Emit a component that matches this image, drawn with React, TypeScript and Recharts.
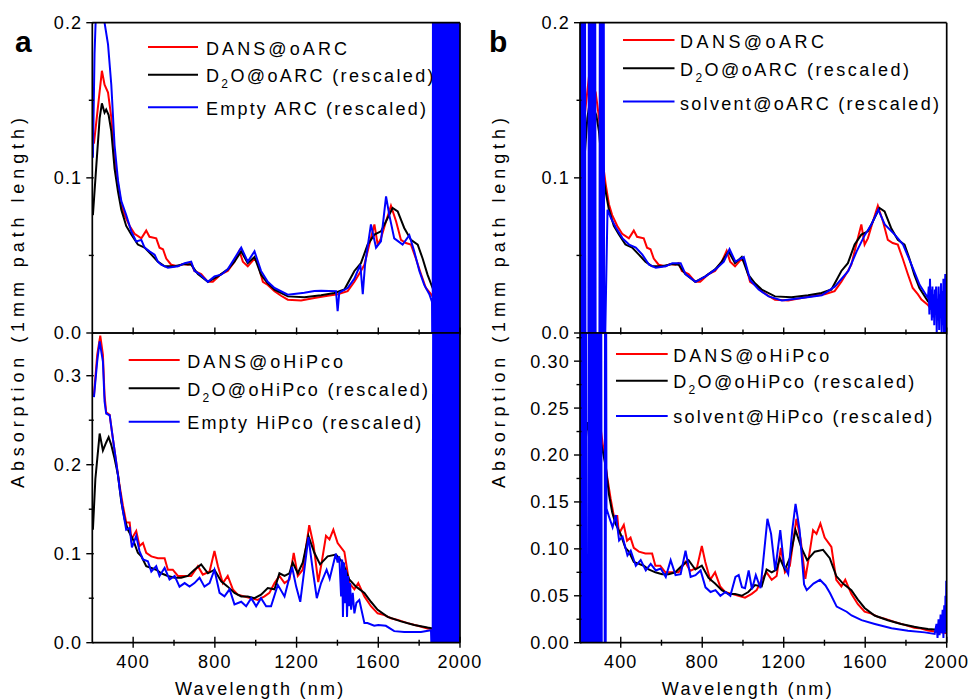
import React from 'react';
import { LineChart, Line, XAxis, YAxis, Legend } from 'recharts';

type P = [number, number];

// ---------- axes ----------
const wavelengthDomain: [number, number] = [200, 2000];
const wavelengthTicks = [400, 600, 800, 1000, 1200, 1400, 1600, 1800, 2000];
const wavelengthLabelTicks = [400, 800, 1200, 1600, 2000];
const arcAbsDomain: [number, number] = [0, 0.2];
const arcAbsTicks = [0, 0.05, 0.1, 0.15, 0.2];
const hipcoAbsDomainA: [number, number] = [0, 0.348];
const hipcoAbsTicksA = [0, 0.05, 0.1, 0.15, 0.2, 0.25, 0.3];
const hipcoAbsDomainB: [number, number] = [0, 0.33];
const hipcoAbsTicksB = [0, 0.025, 0.05, 0.075, 0.1, 0.125, 0.15, 0.175, 0.2, 0.225, 0.25, 0.275, 0.3, 0.325];

// ---------- spectra [wavelength nm, absorption] ----------
const dansArc: P[] = [
  [208, 0.122], [247, 0.169], [260, 0.16], [277, 0.155], [293, 0.139], [309, 0.113], [326, 0.096], [342, 0.083],
  [358, 0.076], [383, 0.069], [407, 0.064], [440, 0.061], [464, 0.066], [480, 0.062], [513, 0.061], [529, 0.055],
  [546, 0.054], [562, 0.048], [586, 0.044], [619, 0.043], [643, 0.0445], [668, 0.044], [684, 0.045], [700, 0.04],
  [733, 0.038], [766, 0.033], [790, 0.033], [806, 0.035], [831, 0.038], [863, 0.04], [896, 0.046], [920, 0.053],
  [937, 0.046], [961, 0.043], [994, 0.048], [1010, 0.045], [1035, 0.033], [1059, 0.031], [1092, 0.027], [1124, 0.024],
  [1157, 0.0215], [1222, 0.021], [1287, 0.0225], [1352, 0.024], [1401, 0.025], [1450, 0.027], [1483, 0.033], [1515, 0.04],
  [1532, 0.044], [1556, 0.057], [1581, 0.07], [1597, 0.057], [1613, 0.061], [1638, 0.072], [1662, 0.082], [1687, 0.072],
  [1711, 0.06], [1735, 0.058], [1760, 0.057], [1784, 0.048], [1809, 0.038], [1833, 0.029], [1858, 0.025], [1876, 0.0215],
  [1908, 0.018], [1933, 0.014], [1973, 0.01], [2000, 0.008],
];

const d2oArc: P[] = [
  [203, 0.076], [220, 0.1085], [236, 0.1385], [247, 0.148], [260, 0.142], [268, 0.144], [280, 0.1405], [293, 0.13],
  [309, 0.106], [326, 0.091], [342, 0.0795], [366, 0.069], [391, 0.0635], [423, 0.057], [456, 0.055], [489, 0.0505],
  [521, 0.046], [554, 0.043], [603, 0.043], [652, 0.0445], [684, 0.044], [717, 0.038], [766, 0.033], [815, 0.0365],
  [863, 0.041], [896, 0.046], [929, 0.0526], [961, 0.045], [994, 0.049], [1026, 0.0376], [1059, 0.032], [1092, 0.028],
  [1157, 0.0236], [1238, 0.023], [1320, 0.0243], [1385, 0.0258], [1434, 0.028], [1483, 0.04], [1515, 0.045], [1548, 0.057],
  [1581, 0.0634], [1613, 0.0655], [1638, 0.072], [1670, 0.0806], [1695, 0.0784], [1727, 0.0677], [1760, 0.06], [1793, 0.057],
  [1817, 0.048], [1841, 0.0376], [1866, 0.029], [1908, 0.0204], [1941, 0.0161], [1973, 0.0118], [2000, 0.009],
];

const nirSaturation: P[] = [
  [1866, -0.05], [1869, 0.45], [1872, -0.05], [1875, 0.45], [1878, -0.05], [1881, 0.45], [1884, -0.05], [1887, 0.45],
  [1890, -0.05], [1893, 0.45], [1896, -0.05], [1899, 0.45], [1902, -0.05], [1905, 0.45], [1908, -0.05], [1911, 0.45],
  [1914, -0.05], [1917, 0.45], [1920, -0.05], [1923, 0.45], [1926, -0.05], [1929, 0.45], [1932, -0.05], [1935, 0.45],
  [1938, -0.05], [1941, 0.45], [1944, -0.05], [1947, 0.45], [1950, -0.05], [1953, 0.45], [1956, -0.05], [1959, 0.45],
  [1962, -0.05], [1965, 0.45], [1968, -0.05], [1971, 0.45], [1974, -0.05], [1977, 0.45], [1980, -0.05], [1983, 0.45],
  [1986, -0.05], [1989, 0.45], [1992, -0.05], [1995, 0.45], [1998, -0.05], [2000, 0.45],
];

const emptyArcMain: P[] = [
  [203, 0.113], [211, 0.18], [220, 0.215], [236, 0.23], [252, 0.22], [260, 0.2], [277, 0.186], [293, 0.16],
  [309, 0.121], [326, 0.098], [342, 0.085], [366, 0.076], [391, 0.0655], [415, 0.059], [440, 0.06], [456, 0.055],
  [480, 0.0526], [505, 0.0505], [521, 0.046], [537, 0.044], [570, 0.042], [619, 0.043], [652, 0.045], [684, 0.046],
  [700, 0.04], [725, 0.038], [766, 0.033], [798, 0.0365], [831, 0.0376], [863, 0.041], [896, 0.048], [929, 0.055],
  [961, 0.046], [994, 0.0526], [1026, 0.04], [1059, 0.033], [1092, 0.029], [1157, 0.0247], [1238, 0.026], [1287, 0.027],
  [1320, 0.0273], [1393, 0.027], [1401, 0.014], [1409, 0.026], [1450, 0.029], [1483, 0.035], [1512, 0.044], [1524, 0.025],
  [1535, 0.044], [1564, 0.07], [1589, 0.055], [1613, 0.059], [1638, 0.088], [1654, 0.076], [1678, 0.061], [1719, 0.057],
  [1752, 0.063], [1776, 0.0526], [1801, 0.04], [1825, 0.031], [1850, 0.025], [1863, 0.02],
];
const emptyArc: P[] = [...emptyArcMain, ...nirSaturation];

const solventArc: P[] = [
  [200, 0.3], [203, -0.05], [206, 0.3], [209, -0.05], [212, 0.3], [215, -0.05], [218, 0.3], [221, -0.05], [224, 0.3],
  [227, -0.05], [241, -0.05], [244, 0.3], [247, -0.05], [250, 0.3], [253, -0.05], [256, 0.3], [259, -0.05], [262, 0.3],
  [265, -0.05], [268, 0.3], [271, -0.05], [274, 0.3], [277, -0.05], [295, -0.05], [298, 0.3], [301, -0.05], [304, 0.3],
  [307, -0.05], [310, 0.3], [313, -0.05], [316, 0.3], [319, -0.05], [324, 0], [335, 0.0795], [352, 0.074], [376, 0.068],
  [409, 0.061], [441, 0.057], [474, 0.055], [506, 0.0505], [539, 0.044], [572, 0.042], [621, 0.043], [653, 0.045],
  [694, 0.045], [718, 0.038], [767, 0.033], [816, 0.0365], [865, 0.041], [906, 0.046], [934, 0.054], [963, 0.046],
  [1004, 0.049], [1036, 0.034], [1077, 0.028], [1126, 0.0236], [1191, 0.021], [1289, 0.0226], [1387, 0.0243], [1452, 0.03],
  [1517, 0.04], [1558, 0.0526], [1599, 0.0634], [1631, 0.07], [1664, 0.0795], [1696, 0.07], [1745, 0.0634], [1786, 0.057],
  [1827, 0.044], [1867, 0.031], [1908, 0.0226], [1912, 0.03], [1915, 0.012], [1918, 0.035], [1921, 0.015], [1924, 0.028],
  [1927, 0.008], [1930, 0.03], [1933, 0.01], [1936, 0.025], [1939, 0.005], [1942, 0.028], [1945, 0.012], [1948, 0.03],
  [1951, 0.0], [1954, 0.022], [1957, 0.008], [1960, 0.03], [1963, 0.002], [1966, 0.025], [1969, 0.01], [1972, 0.032],
  [1975, 0.0], [1978, 0.027], [1981, 0.005], [1984, 0.035], [1987, -0.01], [1990, 0.02], [1993, 0.038], [1995, -0.01],
  [1998, 0.01], [2000, -0.01],
];

const dansHipco: P[] = [
  [208, 0.278], [224, 0.3235], [239, 0.345], [252, 0.3235], [260, 0.278], [268, 0.259], [285, 0.256], [301, 0.229],
  [317, 0.203], [334, 0.176], [350, 0.154], [366, 0.135], [383, 0.135], [391, 0.116], [415, 0.1255], [431, 0.1086],
  [448, 0.112], [464, 0.101], [489, 0.097], [521, 0.095], [554, 0.095], [570, 0.082], [594, 0.082], [619, 0.075],
  [652, 0.075], [684, 0.075], [717, 0.086], [741, 0.0765], [774, 0.08], [798, 0.103], [815, 0.086], [839, 0.067],
  [863, 0.075], [888, 0.06], [912, 0.054], [945, 0.052], [978, 0.05], [1010, 0.048], [1043, 0.052], [1067, 0.056],
  [1092, 0.067], [1116, 0.075], [1141, 0.067], [1165, 0.071], [1186, 0.101], [1206, 0.075], [1230, 0.082], [1262, 0.132],
  [1283, 0.11], [1306, 0.068], [1322, 0.089], [1344, 0.12], [1361, 0.116], [1380, 0.127], [1401, 0.112], [1434, 0.102],
  [1458, 0.067], [1483, 0.06], [1502, 0.067], [1532, 0.052], [1564, 0.041], [1597, 0.033], [1630, 0.031], [1662, 0.0275],
  [1695, 0.0256], [1744, 0.022], [1793, 0.019], [1841, 0.016], [1866, 0.0155], [1908, 0.013], [1941, 0.012], [1973, 0.011],
  [2000, 0.01],
];

const d2oHipco: P[] = [
  [203, 0.127], [215, 0.184], [236, 0.235], [252, 0.216], [268, 0.225], [280, 0.231], [293, 0.222], [309, 0.207],
  [326, 0.188], [342, 0.158], [358, 0.139], [374, 0.127], [399, 0.116], [423, 0.101], [440, 0.097], [464, 0.086],
  [489, 0.084], [513, 0.082], [537, 0.078], [570, 0.075], [603, 0.073], [635, 0.073], [668, 0.075], [700, 0.082],
  [733, 0.088], [766, 0.078], [798, 0.082], [831, 0.069], [863, 0.063], [896, 0.056], [929, 0.052], [961, 0.052],
  [994, 0.05], [1026, 0.054], [1059, 0.0615], [1092, 0.06], [1116, 0.078], [1141, 0.075], [1165, 0.078], [1181, 0.09],
  [1206, 0.078], [1230, 0.09], [1258, 0.12], [1287, 0.101], [1315, 0.088], [1352, 0.097], [1393, 0.099], [1426, 0.09],
  [1458, 0.071], [1491, 0.063], [1532, 0.056], [1564, 0.046], [1597, 0.037], [1646, 0.029], [1711, 0.024], [1776, 0.02],
  [1841, 0.017], [1866, 0.016], [1908, 0.0145], [1941, 0.014], [1973, 0.0135], [2000, 0.013],
];

const emptyHipcoMain: P[] = [
  [208, 0.276], [224, 0.316], [236, 0.3385], [252, 0.316], [260, 0.271], [268, 0.2575], [285, 0.2556], [301, 0.229],
  [317, 0.203], [334, 0.173], [350, 0.148], [366, 0.127], [383, 0.129], [394, 0.107], [415, 0.12], [431, 0.103],
  [448, 0.0935], [472, 0.0916], [489, 0.08], [513, 0.086], [529, 0.075], [554, 0.084], [578, 0.071], [603, 0.075],
  [627, 0.063], [652, 0.067], [676, 0.063], [700, 0.067], [725, 0.073], [749, 0.063], [774, 0.067], [798, 0.082],
  [823, 0.056], [847, 0.052], [872, 0.06], [896, 0.043], [929, 0.046], [953, 0.041], [978, 0.05], [1002, 0.041],
  [1026, 0.05], [1051, 0.041], [1075, 0.041], [1108, 0.065], [1141, 0.052], [1178, 0.085], [1198, 0.063], [1218, 0.046],
  [1238, 0.082], [1258, 0.1185], [1279, 0.082], [1299, 0.05], [1320, 0.067], [1347, 0.082], [1362, 0.072], [1392, 0.1],
  [1401, 0.09], [1409, 0.097], [1418, 0.052], [1423, 0.0935], [1427, 0.029], [1432, 0.09], [1437, 0.0445], [1442, 0.082],
  [1447, 0.029], [1452, 0.075], [1457, 0.041], [1462, 0.067], [1467, 0.037], [1475, 0.056], [1483, 0.033], [1493, 0.045],
  [1507, 0.048], [1532, 0.022], [1547, 0.022], [1580, 0.019], [1600, 0.02], [1637, 0.019], [1678, 0.013], [1727, 0.012],
  [1809, 0.012], [1858, 0.014],
];
const emptyHipco: P[] = [...emptyHipcoMain, ...nirSaturation];

const solventHipco: P[] = [
  [200, 0.4], [203, -0.05], [206, 0.4], [209, -0.05], [212, 0.4], [215, -0.05], [218, 0.4], [221, -0.05], [224, 0.4],
  [227, -0.05], [230, 0.4], [233, -0.05], [241, -0.05], [244, 0.4], [247, -0.05], [250, 0.4], [253, -0.05], [256, 0.4],
  [259, -0.05], [262, 0.4], [265, -0.05], [268, 0.4], [271, -0.05], [274, 0.4], [277, -0.05], [280, 0.4], [283, -0.05],
  [286, 0.4], [289, -0.05], [292, 0.4], [295, -0.05], [298, 0.4], [301, -0.05], [304, 0.4], [307, -0.05], [321, -0.05],
  [323, 0.4], [326, -0.05], [328, 0.4], [330, 0.143], [343, 0.134], [360, 0.123], [376, 0.136], [392, 0.109],
  [409, 0.113], [433, 0.093], [449, 0.098], [474, 0.082], [498, 0.088], [523, 0.077], [547, 0.084], [572, 0.077],
  [596, 0.079], [621, 0.07], [645, 0.088], [669, 0.072], [694, 0.073], [718, 0.098], [743, 0.07], [767, 0.072],
  [792, 0.077], [816, 0.059], [841, 0.054], [865, 0.056], [889, 0.05], [914, 0.054], [938, 0.05], [963, 0.07],
  [979, 0.072], [995, 0.059], [1010, 0.058], [1028, 0.077], [1044, 0.057], [1063, 0.072], [1086, 0.058], [1120, 0.132],
  [1138, 0.116], [1158, 0.077], [1183, 0.12], [1202, 0.082], [1222, 0.073], [1242, 0.12], [1258, 0.148], [1278, 0.12],
  [1300, 0.062], [1313, 0.056], [1346, 0.063], [1378, 0.067], [1405, 0.061], [1427, 0.053], [1460, 0.0385], [1509, 0.033],
  [1533, 0.029], [1582, 0.024], [1647, 0.02], [1729, 0.0153], [1810, 0.0128], [1892, 0.011], [1941, 0.0093], [1950, 0.02],
  [1955, 0.005], [1960, 0.025], [1965, 0.008], [1970, 0.03], [1975, 0.01], [1980, 0.035], [1984, 0.005], [1988, 0.04],
  [1991, 0.01], [1994, 0.05], [1996, 0.015], [1998, 0.066], [2000, 0.03],
];

// ---------- styling ----------
const FONT = "'Liberation Sans', Arial, Helvetica, sans-serif";
const RED = '#ff0000';
const BLACK = '#000000';
const BLUE = '#0000ff';
const AXIS_W = 1.7;
const LINE_W = 2;

type Series = { name: string; color: string; points: P[] };
type PanelCfg = {
  key: string;
  left: number; top: number; width: number; height: number;
  plot: { l: number; t: number; r: number; b: number };
  yDomain: [number, number];
  yTicks: number[];
  yStep: number;
  yDigits: number;
  xLabels: boolean;
  series: Series[];
  legend: { x1: number; x2: number; tx: number; lineY: number[]; baseY: number[]; len: number[] };
};

const panels: PanelCfg[] = [
  {
    key: 'aTop', left: 0, top: 0, width: 490, height: 345,
    plot: { l: 92.3, t: 22.7, r: 460, b: 333 },
    yDomain: arcAbsDomain, yTicks: arcAbsTicks, yStep: 0.1, yDigits: 1, xLabels: false,
    series: [
      { name: 'DANS@oARC', color: RED, points: dansArc },
      { name: 'D₂O@oARC (rescaled)', color: BLACK, points: d2oArc },
      { name: 'Empty ARC (rescaled)', color: BLUE, points: emptyArc },
    ],
    legend: { x1: 148, x2: 198, tx: 206, lineY: [47, 74.7, 107.3], baseY: [54.8, 82, 114.5], len: [141, 227.5, 220] },
  },
  {
    key: 'aBottom', left: 0, top: 320, width: 490, height: 380,
    plot: { l: 92.3, t: 333, r: 460, b: 642.7 },
    yDomain: hipcoAbsDomainA, yTicks: hipcoAbsTicksA, yStep: 0.1, yDigits: 1, xLabels: true,
    series: [
      { name: 'DANS@oHiPco', color: RED, points: dansHipco },
      { name: 'D₂O@oHiPco (rescaled)', color: BLACK, points: d2oHipco },
      { name: 'Empty HiPco (rescaled)', color: BLUE, points: emptyHipco },
    ],
    legend: { x1: 128.7, x2: 179.7, tx: 187.3, lineY: [360, 388.3, 421.7], baseY: [368.3, 396, 429.3], len: [155.7, 240.7, 234] },
  },
  {
    key: 'bTop', left: 480, top: 0, width: 495, height: 345,
    plot: { l: 580, t: 22.7, r: 946.7, b: 333 },
    yDomain: arcAbsDomain, yTicks: arcAbsTicks, yStep: 0.1, yDigits: 1, xLabels: false,
    series: [
      { name: 'DANS@oARC', color: RED, points: dansArc },
      { name: 'D₂O@oARC (rescaled)', color: BLACK, points: d2oArc },
      { name: 'solvent@oARC (rescaled)', color: BLUE, points: solventArc },
    ],
    legend: { x1: 623, x2: 674.5, tx: 680, lineY: [40, 68.2, 101.5], baseY: [48, 76, 109.8], len: [144, 229, 259] },
  },
  {
    key: 'bBottom', left: 480, top: 320, width: 495, height: 380,
    plot: { l: 580, t: 333, r: 946.7, b: 642.7 },
    yDomain: hipcoAbsDomainB, yTicks: hipcoAbsTicksB, yStep: 0.05, yDigits: 2, xLabels: true,
    series: [
      { name: 'DANS@oHiPco', color: RED, points: dansHipco },
      { name: 'D₂O@oHiPco (rescaled)', color: BLACK, points: d2oHipco },
      { name: 'solvent@HiPco (rescaled)', color: BLUE, points: solventHipco },
    ],
    legend: { x1: 616, x2: 667.7, tx: 673.3, lineY: [354, 380.7, 416], baseY: [361.7, 388.3, 423.3], len: [156, 241, 259] },
  },
];

const toRows = (pts: P[]) => pts.map(([x, y]) => ({ x, y }));

function LegendLabel({ x, y, name, len }: { x: number; y: number; name: string; len: number }) {
  const parts = name.split('₂');
  return (
    <text x={x} y={y} fontSize={18} fontFamily={FONT} fill="#000" textLength={len} lengthAdjust="spacing">
      {parts.length === 2 ? (
        <>
          {parts[0]}
          <tspan fontSize={12} dy={6}>2</tspan>
          <tspan dy={-6}>{parts[1]}</tspan>
        </>
      ) : (
        name
      )}
    </text>
  );
}

function LegendBox({ cfg }: { cfg: PanelCfg }) {
  const { left, top, width, height, legend, series } = cfg;
  return (
    <svg width={width} height={height} style={{ position: 'absolute', left: 0, top: 0, overflow: 'visible' }}>
      {series.map((s, i) => (
        <g key={s.name}>
          <line x1={legend.x1 - left} x2={legend.x2 - left} y1={legend.lineY[i] - top} y2={legend.lineY[i] - top}
            stroke={s.color} strokeWidth={2} />
          <LegendLabel x={legend.tx - left} y={legend.baseY[i] - top} name={s.name} len={legend.len[i]} />
        </g>
      ))}
    </svg>
  );
}

function isMultiple(v: number, step: number) {
  return Math.abs(v / step - Math.round(v / step)) < 1e-6;
}

function Panel({ cfg }: { cfg: PanelCfg }) {
  const { left, top, width, height, plot } = cfg;
  // axes take 1px each (bottom/top x axes, right y axis); the left y axis takes the rest
  const margin = {
    top: plot.t - top - 1,
    right: left + width - plot.r - 1,
    bottom: top + height - plot.b - 1,
    left: 0,
  };
  const yAxisWidth = plot.l - left;

  const yTick = (props: any) => {
    const { x, y, payload } = props;
    const v = payload.value as number;
    const major = isMultiple(v, cfg.yStep);
    return (
      <g>
        <line x1={x - (major ? 6 : 3.5)} x2={x + 1.5} y1={y} y2={y} stroke="#000" strokeWidth={1.4} />
        {major && (
          <text x={x - 10} y={y} dy="0.36em" textAnchor="end" fontSize={18} fontFamily={FONT} letterSpacing={1.2} fill="#000">
            {v.toFixed(cfg.yDigits)}
          </text>
        )}
      </g>
    );
  };

  const xTick = (props: any) => {
    const { x, y, payload } = props;
    const v = payload.value as number;
    const major = wavelengthLabelTicks.includes(v);
    if (!cfg.xLabels) {
      return (
        <g>
          <line x1={x} x2={x} y1={y - (major ? 5.5 : 3.5)} y2={y + 1.5} stroke="#000" strokeWidth={1.4} />
        </g>
      );
    }
    return (
      <g>
        <line x1={x} x2={x} y1={y - (major ? 6 : 3)} y2={y + (major ? 5 : 3)} stroke="#000" strokeWidth={1.4} />
        {major && (
          <text x={x} y={y + 25} textAnchor="middle" fontSize={18} fontFamily={FONT} letterSpacing={1.2} fill="#000">
            {String(v)}
          </text>
        )}
      </g>
    );
  };

  return (
    <div style={{ position: 'absolute', left, top, width, height }}>
      <LineChart width={width} height={height} margin={margin}>
        <XAxis xAxisId="b" dataKey="x" type="number" domain={wavelengthDomain} allowDataOverflow ticks={wavelengthTicks}
          interval={0} height={1} tickSize={0} tickMargin={0} tickLine={false} tick={xTick}
          axisLine={{ stroke: '#000', strokeWidth: AXIS_W }} />
        <XAxis xAxisId="t" orientation="top" type="number" domain={wavelengthDomain} allowDataOverflow height={1}
          tick={false} tickLine={false} axisLine={{ stroke: '#000', strokeWidth: AXIS_W }} />
        <YAxis yAxisId="l" type="number" domain={cfg.yDomain} allowDataOverflow ticks={cfg.yTicks} interval={0}
          width={yAxisWidth} tickSize={0} tickMargin={0} tickLine={false} tick={yTick}
          axisLine={{ stroke: '#000', strokeWidth: AXIS_W }} />
        <YAxis yAxisId="r" orientation="right" type="number" domain={cfg.yDomain} allowDataOverflow width={1}
          tick={false} tickLine={false} axisLine={{ stroke: '#000', strokeWidth: AXIS_W }} />
        {cfg.series.map((s) => (
          <Line key={s.name} xAxisId="b" yAxisId="l" data={toRows(s.points)} dataKey="y" name={s.name}
            stroke={s.color} strokeWidth={LINE_W} dot={false} activeDot={false} isAnimationActive={false} />
        ))}
        <Legend layout="horizontal" verticalAlign="middle" align="center" width={width} height={height}
          wrapperStyle={{ left: 0, top: 0, width, height, pointerEvents: 'none' }}
          content={() => <LegendBox cfg={cfg} />} />
      </LineChart>
    </div>
  );
}

export default function App() {
  return (
    <div style={{ position: 'absolute', left: 0, top: 0, width: 975, height: 700, background: '#fff', overflow: 'hidden' }}>
      {panels.map((p) => (
        <Panel key={p.key} cfg={p} />
      ))}
      <svg width={975} height={700} style={{ position: 'absolute', left: 0, top: 0, pointerEvents: 'none' }}>
        <text x={15} y={51.7} fontSize={30} fontWeight="bold" fontFamily={FONT} fill="#000">a</text>
        <text x={489} y={51.7} fontSize={30} fontWeight="bold" fontFamily={FONT} fill="#000">b</text>
        <text x={175} y={695} fontSize={18} fontFamily={FONT} fill="#000" textLength={168.3} lengthAdjust="spacing">Wavelength (nm)</text>
        <text x={661.7} y={695} fontSize={18} fontFamily={FONT} fill="#000" textLength={170} lengthAdjust="spacing">Wavelength (nm)</text>
        <text transform="translate(24,303) rotate(-90)" textAnchor="middle" fontSize={18} fontFamily={FONT} fill="#000"
          textLength={370} lengthAdjust="spacing">Absorption (1mm path length)</text>
        <text transform="translate(504.5,303) rotate(-90)" textAnchor="middle" fontSize={18} fontFamily={FONT} fill="#000"
          textLength={370} lengthAdjust="spacing">Absorption (1mm path length)</text>
      </svg>
    </div>
  );
}
